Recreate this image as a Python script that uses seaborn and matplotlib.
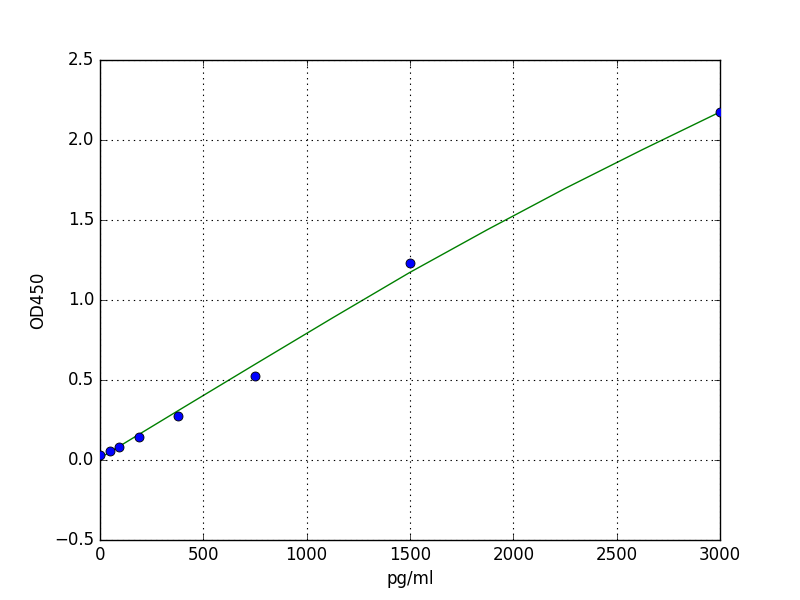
import numpy as np
import pandas as pd
import matplotlib
matplotlib.use('Agg')
import matplotlib.pyplot as plt
import seaborn as sns

# standard curve readings
conc = [0, 46.875, 93.75, 187.5, 375, 750, 1500, 3000]
od450 = [0.031, 0.056, 0.082, 0.145, 0.274, 0.525, 1.229, 2.175]

# fitted curve
fit_conc = [0, 375, 750, 1125, 1500, 1875, 2250, 2625, 3000]
fit_od = [0.0125, 0.306, 0.598, 0.888, 1.173, 1.44, 1.697, 1.94, 2.175]

plt.style.use('classic')
plt.rcParams['font.family'] = ['DejaVu Sans']

pts = pd.DataFrame({'pg/ml': conc, 'OD450': od450})
fit = pd.DataFrame({'pg/ml': fit_conc, 'OD450': fit_od})

fig = plt.figure(figsize=(8, 6), dpi=100, facecolor='white')
ax = fig.add_axes([0.125, 0.1, 0.775, 0.8])

sns.scatterplot(data=pts, x='pg/ml', y='OD450', ax=ax, color='#0000ff',
                edgecolor='black', linewidth=0.6, s=42, zorder=3,
                legend=False, clip_on=True)
sns.lineplot(data=fit, x='pg/ml', y='OD450', ax=ax, color='#008000',
             linewidth=1.0, zorder=2, legend=False)

ax.set_xlim(0, 3000)
ax.set_ylim(-0.5, 2.5)
ax.set_xticks(np.arange(0, 3001, 500))
ax.set_yticks(np.arange(-0.5, 2.51, 0.5))
ax.grid(True, color='black', linestyle=':', linewidth=0.8)
ax.set_xlabel('pg/ml', fontsize=12)
ax.set_ylabel('OD450', fontsize=12)
ax.tick_params(labelsize=12)
for c in ax.collections:
    c.set_clip_on(True)
    c.set_clip_box(ax.bbox)

fig.savefig('out.png', dpi=100, facecolor='white')
